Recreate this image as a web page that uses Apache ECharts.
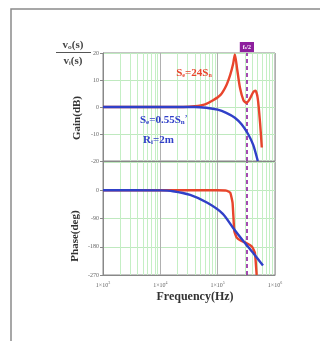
<!DOCTYPE html>
<html>
<head>
<meta charset="utf-8">
<script src="https://cdn.jsdelivr.net/npm/echarts@6/dist/echarts.min.js"></script>
<style>
  html, body { margin: 0; padding: 0; background: #fff; }
  #chart { width: 320px; height: 341px; }
</style>
</head>
<body>
<div id="chart"></div>
<script>
// Closed-loop gain/phase of the converter for two ramp settings (frequency in Hz)
const gainFreqBlue = [1000, 10000, 39811, 63096, 100000, 141254, 199526, 263027, 338844, 416869, 501187];
const gainBlue     = [0, 0, 0, -0.3, -1, -2.2, -4, -6.5, -10, -14, -20];

const gainFreqRed = [1000, 10000, 25119, 39811, 60256, 83176, 112202, 141254, 165959, 186209, 199526,
                     218776, 245471, 281838, 316228, 363078, 416869, 457088, 501187, 549541, 588844];
const gainRed     = [0, 0, 0, 0.3, 1, 2.5, 4.5, 8, 12, 16, 19.5,
                     14, 7, 2.5, 1.5, 3, 5.5, 6, 3, -6, -15];

const phaseFreqBlue = [1000, 10000, 16596, 33113, 66069, 123027, 186209, 275423, 416869, 616595];
const phaseBlue     = [0, -0.5, -3, -15, -40, -75, -120, -160, -200, -240];

const phaseFreqRed = [1000, 10000, 100000, 141254, 165959, 181970, 194984, 213796, 251189, 316228, 398107, 446684, 478630];
const phaseRed     = [0, 0, 0, -1, -8, -40, -130, -150, -160, -168, -180, -200, -270];

const halfSwitchingFreq = 323594;
const gainTicks  = [-20, 20, 10];      // min, max, interval
const phaseTicks = [-270, 90, 90];

const RED = '#e8452c', BLUE = '#3040c8', PURPLE = '#8e1f9e';
const SERIF = '"Liberation Serif", "DejaVu Serif", serif';

function pairs(xs, ys) { return xs.map((x, i) => [x, ys[i]]); }

// light green minor grid at 2..9 of each decade
const minorLines = [];
for (let e = 3; e < 6; e++) for (let m = 2; m <= 9; m++) minorLines.push({ xAxis: m * Math.pow(10, e) });

function supDigit(e) { return '1×10{s|' + e + '}'; }

const chart = echarts.init(document.getElementById('chart'), null, { renderer: 'canvas' });

const xBase = {
  type: 'log', logBase: 10, min: 1000, max: 1000000,
  axisLine: { show: true, onZero: false, lineStyle: { color: '#888' } },
  axisTick: { show: false },
  splitLine: { show: true, lineStyle: { color: '#b0b0b0', width: 1 } }
};
const yBase = {
  type: 'value',
  axisLine: { show: true, lineStyle: { color: '#888' } },
  axisTick: { show: true, length: 3, lineStyle: { color: '#888' } },
  axisLabel: { fontSize: 6, color: '#666', margin: 4, fontFamily: SERIF },
  splitLine: { show: true, lineStyle: { color: '#bfe9bf', width: 1 } }
};

const lineSeries = (name, data, color, xi, smooth) => ({
  name, type: 'line', xAxisIndex: xi, yAxisIndex: xi, data,
  showSymbol: false, smooth: smooth, clip: true,
  lineStyle: { color, width: 2.4 }, z: 5
});

chart.setOption({
  animation: false,
  backgroundColor: '#fff',
  grid: [
    { left: 103, top: 53, width: 172, height: 108, show: true, borderColor: '#888', borderWidth: 1 },
    { left: 103, top: 162, width: 172, height: 113, show: true, borderColor: '#888', borderWidth: 1 }
  ],
  xAxis: [
    Object.assign({}, xBase, { gridIndex: 0, axisLabel: { show: false } }),
    Object.assign({}, xBase, {
      gridIndex: 1,
      axisLabel: {
        fontSize: 6, color: '#666', margin: 6, fontFamily: SERIF,
        formatter: v => supDigit(Math.round(Math.log10(v))),
        rich: { s: { fontSize: 4, verticalAlign: 'top', color: '#666', padding: [0, 0, 4, 0] } }
      }
    })
  ],
  yAxis: [
    Object.assign({}, yBase, { gridIndex: 0, min: gainTicks[0], max: gainTicks[1], interval: gainTicks[2] }),
    Object.assign({}, yBase, { gridIndex: 1, min: phaseTicks[0], max: phaseTicks[1], interval: phaseTicks[2],
      axisLabel: Object.assign({}, yBase.axisLabel, { showMaxLabel: false }) })
  ],
  series: [
    {
      type: 'line', xAxisIndex: 0, yAxisIndex: 0, data: [], silent: true,
      markLine: { silent: true, symbol: 'none', animation: false, label: { show: false },
        lineStyle: { color: '#c4efc4', type: 'solid', width: 1 }, data: minorLines }
    },
    {
      type: 'line', xAxisIndex: 1, yAxisIndex: 1, data: [], silent: true,
      markLine: { silent: true, symbol: 'none', animation: false, label: { show: false },
        lineStyle: { color: '#c4efc4', type: 'solid', width: 1 }, data: minorLines }
    },
    lineSeries('gainRed', pairs(gainFreqRed, gainRed), RED, 0, 0.25),
    lineSeries('gainBlue', pairs(gainFreqBlue, gainBlue), BLUE, 0, 0.25),
    lineSeries('phaseRed', pairs(phaseFreqRed, phaseRed), RED, 1, 0.12),
    lineSeries('phaseBlue', pairs(phaseFreqBlue, phaseBlue), BLUE, 1, 0.25),
    {
      type: 'line', xAxisIndex: 0, yAxisIndex: 0, data: [], z: 6,
      markLine: {
        silent: true, symbol: 'none', animation: false,
        lineStyle: { color: PURPLE, type: [4, 3], width: 1.6 },
        label: {
          show: true, position: 'end', distance: 1, formatter: 'f{s|s}/2',
          backgroundColor: PURPLE, color: '#fff', fontSize: 6, padding: [2, 3],
          fontFamily: SERIF, fontWeight: 'bold',
          rich: { s: { fontSize: 4, color: '#fff', verticalAlign: 'bottom' } }
        },
        data: [{ xAxis: halfSwitchingFreq }]
      }
    },
    {
      type: 'line', xAxisIndex: 1, yAxisIndex: 1, data: [], z: 6,
      markLine: {
        silent: true, symbol: 'none', animation: false, label: { show: false },
        lineStyle: { color: PURPLE, type: [4, 3], width: 1.6 },
        data: [{ xAxis: halfSwitchingFreq }]
      }
    }
  ],
  graphic: [
    { type: 'rect', shape: { x: 11, y: 9, width: 400, height: 400 }, silent: true, z: -10,
      style: { fill: 'none', stroke: '#8a8a8a', lineWidth: 1.5 } },
    // transfer-function label v_o(s)/v_i(s)
    { type: 'text', x: 73, y: 45, z: 10, style: {
      text: 'v{b|o}(s)', fill: '#444', font: 'bold 11px ' + SERIF, align: 'center', verticalAlign: 'middle',
      rich: { b: { fontSize: 6, verticalAlign: 'bottom', fill: '#444', fontWeight: 'bold' } } } },
    { type: 'line', z: 10, shape: { x1: 56, y1: 52.5, x2: 91, y2: 52.5 }, style: { stroke: '#555', lineWidth: 1 } },
    { type: 'text', x: 73, y: 61, z: 10, style: {
      text: 'v{b|i}(s)', fill: '#444', font: 'bold 11px ' + SERIF, align: 'center', verticalAlign: 'middle',
      rich: { b: { fontSize: 6, verticalAlign: 'bottom', fill: '#444', fontWeight: 'bold' } } } },
    { type: 'text', x: 77, y: 118, rotation: Math.PI / 2, z: 10, style: {
      text: 'Gain(dB)', fill: '#333', font: 'bold 11px ' + SERIF, align: 'center', verticalAlign: 'middle' } },
    { type: 'text', x: 75, y: 236, rotation: Math.PI / 2, z: 10, style: {
      text: 'Phase(deg)', fill: '#333', font: 'bold 11px ' + SERIF, align: 'center', verticalAlign: 'middle' } },
    { type: 'text', x: 195, y: 297, z: 10, style: {
      text: 'Frequency(Hz)', fill: '#333', font: 'bold 12px ' + SERIF, align: 'center', verticalAlign: 'middle' } },
    { type: 'text', x: 194, y: 73, z: 10, style: {
      text: 'S{b|e}=24S{b|n}', fill: RED, font: 'bold 11px ' + SERIF, align: 'center', verticalAlign: 'middle',
      rich: { b: { fontSize: 6, verticalAlign: 'bottom', fill: RED, fontWeight: 'bold', fontFamily: SERIF } } } },
    { type: 'text', x: 140, y: 120, z: 10, style: {
      text: 'S{b|e}=0.55S{b|n}{p|\u2019}', fill: BLUE, font: 'bold 11px ' + SERIF, align: 'left', verticalAlign: 'middle',
      rich: { b: { fontSize: 7, verticalAlign: 'bottom', fill: BLUE, fontWeight: 'bold', fontFamily: SERIF },
              p: { fontSize: 8, verticalAlign: 'top', fill: BLUE, fontWeight: 'bold', fontFamily: SERIF } } } },
    { type: 'text', x: 143, y: 140, z: 10, style: {
      text: 'R{b|i}=2m', fill: BLUE, font: 'bold 11px ' + SERIF, align: 'left', verticalAlign: 'middle',
      rich: { b: { fontSize: 7, verticalAlign: 'bottom', fill: BLUE, fontWeight: 'bold', fontFamily: SERIF } } } }
  ]
});
</script>
</body>
</html>
